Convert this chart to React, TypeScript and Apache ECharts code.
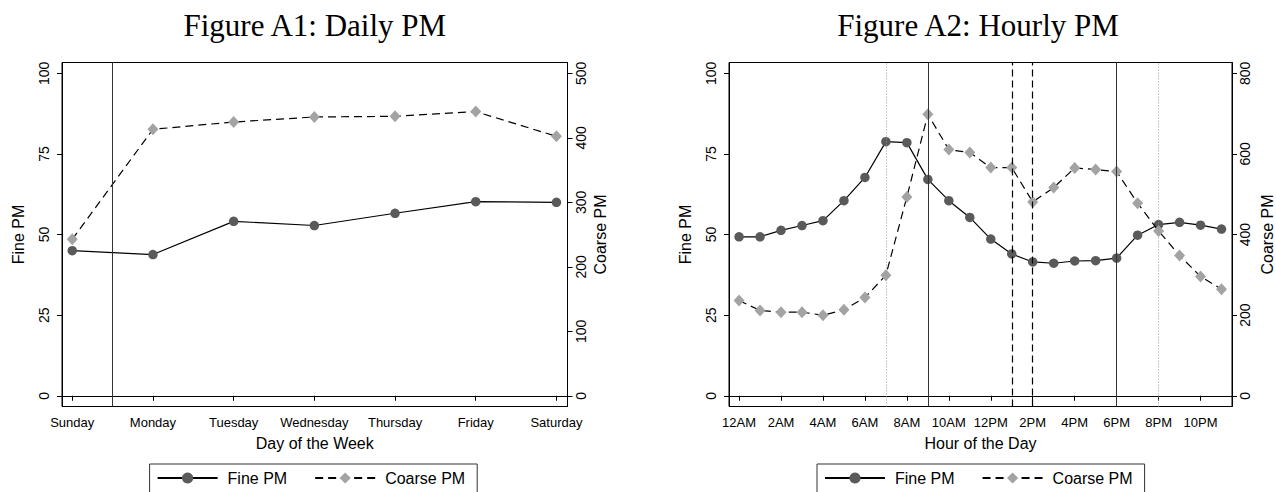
import React, { useEffect, useRef } from "react";
import * as echarts from "echarts";

// ---------- data ----------
const days = ["Sunday", "Monday", "Tuesday", "Wednesday", "Thursday", "Friday", "Saturday"];
const dailyFine = [45.0, 43.8, 54.1, 52.8, 56.6, 60.2, 60.0];
const dailyCoarse = [242.6, 413.2, 424.5, 432.3, 433.3, 440.6, 402.3];

const hourNames = [
  "12AM", "1AM", "2AM", "3AM", "4AM", "5AM", "6AM", "7AM", "8AM", "9AM", "10AM", "11AM",
  "12PM", "1PM", "2PM", "3PM", "4PM", "5PM", "6PM", "7PM", "8PM", "9PM", "10PM", "11PM",
];
const hourTicks = [0, 2, 4, 6, 8, 10, 12, 14, 16, 18, 20, 22];
const hourlyFine = [
  49.3, 49.3, 51.3, 52.8, 54.3, 60.5, 67.7, 78.8, 78.5, 67.1, 60.5, 55.3,
  48.6, 44.0, 41.5, 41.1, 41.8, 41.9, 42.7, 49.8, 53.1, 53.8, 52.9, 51.7,
];
const hourlyCoarse = [
  236.4, 211.6, 207.4, 207.4, 200.0, 213.2, 243.8, 299.2, 493.4, 698.3, 610.7, 603.3,
  566.1, 566.1, 481.0, 516.5, 565.3, 561.2, 556.2, 477.7, 409.1, 347.9, 295.9, 264.4,
];

const fineTicks = [0, 25, 50, 75, 100];
const dailyCoarseTicks = [0, 100, 200, 300, 400, 500];
const hourlyCoarseTicks = [0, 200, 400, 600, 800];

const dailyRefLines = [0.5];
const hourlyDottedLines = [7, 20];
const hourlySolidLines = [9, 18];
const hourlyDashedLines = [13, 14];

const seriesNames = ["Fine PM", "Coarse PM"];
const titles = ["Figure A1: Daily PM", "Figure A2: Hourly PM"];

// ---------- styles ----------
const FONT = "Liberation Sans";
const fineLine = { color: "#000", width: 1.2, type: "solid" as const };
const fineItem = { color: "#5a5a5a", borderWidth: 0 };
const coarseLine = { color: "#000", width: 1.2, type: [8, 5] as any };
const coarseItem = { color: "#a3a3a3", borderWidth: 0 };

function xAxisBase(grid: number, min: number, max: number, ticks: number[], fmt: (v: number) => string, name: string) {
  return {
    gridIndex: grid,
    type: "value",
    min,
    max,
    name,
    nameLocation: "middle",
    nameGap: 29,
    nameTextStyle: { fontFamily: FONT, fontSize: 16, color: "#000" },
    axisLine: { show: true, lineStyle: { color: "#000", width: 1 } },
    axisTick: { show: true, customValues: ticks, length: 5, lineStyle: { color: "#000" } },
    axisLabel: { customValues: ticks, formatter: fmt, margin: 9, fontFamily: FONT, fontSize: 13, color: "#000" },
    splitLine: { show: false },
  };
}

function yAxisBase(grid: number, position: string, min: number, max: number, ticks: number[], name: string, nameGap: number, margin: number) {
  return {
    gridIndex: grid,
    type: "value",
    position,
    min,
    max,
    name,
    nameLocation: "middle",
    nameRotate: 90,
    nameGap,
    nameTextStyle: { fontFamily: FONT, fontSize: 16, color: "#000" },
    axisLine: { show: true, onZero: false, lineStyle: { color: "#000", width: 1 } },
    axisTick: { show: true, customValues: ticks, length: 5, lineStyle: { color: "#000" } },
    axisLabel: { customValues: ticks, rotate: 90, margin, fontFamily: FONT, fontSize: 14, color: "#000" },
    splitLine: { show: false },
  };
}

function refLines(values: number[], style: any) {
  return values.map((v) => ({ xAxis: v, lineStyle: style }));
}

function legendFor(left: number) {
  return {
    data: seriesNames,
    left,
    top: 464,
    orient: "horizontal",
    itemWidth: 60,
    itemHeight: 14,
    itemGap: 27,
    padding: [6, 12, 22, 7],
    borderColor: "#333",
    borderWidth: 1,
    backgroundColor: "#fff",
    selectedMode: false,
    textStyle: { fontFamily: FONT, fontSize: 16, color: "#000", padding: [0, 0, 0, 5] },
  };
}

export default function App() {
  const ref = useRef<HTMLDivElement>(null);

  useEffect(() => {
    if (!ref.current) return;
    const chart = echarts.init(ref.current, undefined, { renderer: "svg" });
    const gridTop = 62.5;
    const gridH = 344;
    const fMin = -3.32;
    const fMax = 103.35;

    const option: any = {
      animation: false,
      textStyle: { fontFamily: FONT },
      grid: [
        { left: 62, top: gridTop, width: 505.5, height: gridH, show: true, borderColor: "#000", borderWidth: 1, backgroundColor: "transparent" },
        { left: 729, top: gridTop, width: 504, height: gridH, show: true, borderColor: "#000", borderWidth: 1, backgroundColor: "transparent" },
      ],
      xAxis: [
        xAxisBase(0, -0.127, 6.137, [0, 1, 2, 3, 4, 5, 6], (v: number) => days[Math.round(v)] ?? "", "Day of the Week"),
        xAxisBase(1, -0.48, 23.5, hourTicks, (v: number) => hourNames[Math.round(v)] ?? "", "Hour of the Day"),
      ],
      yAxis: [
        yAxisBase(0, "left", fMin, fMax, fineTicks, "Fine PM", 36, 11),
        yAxisBase(0, "right", fMin * 5, fMax * 5, dailyCoarseTicks, "Coarse PM", 25, 6),
        yAxisBase(1, "left", fMin, fMax, fineTicks, "Fine PM", 36, 11),
        yAxisBase(1, "right", fMin * 8, fMax * 8, hourlyCoarseTicks, "Coarse PM", 27, 6),
      ],
      legend: [legendFor(149.6), legendFor(817)],
      graphic: [
        { type: "text", x: 314.8, y: 25, style: { text: titles[0], textAlign: "center", textVerticalAlign: "middle", font: "31px 'Liberation Serif'", fill: "#000" } },
        { type: "text", x: 978, y: 25, style: { text: titles[1], textAlign: "center", textVerticalAlign: "middle", font: "31px 'Liberation Serif'", fill: "#000" } },
      ],
      series: [
        {
          name: seriesNames[0],
          type: "line",
          xAxisIndex: 0,
          yAxisIndex: 0,
          data: dailyFine.map((v, i) => [i, v]),
          symbol: "circle",
          symbolSize: 9.5,
          lineStyle: fineLine,
          itemStyle: fineItem,
          z: 3,
          markLine: {
            silent: true,
            symbol: "none",
            label: { show: false },
            data: refLines(dailyRefLines, { color: "#333", width: 1, type: "solid" }),
          },
        },
        {
          name: seriesNames[1],
          type: "line",
          xAxisIndex: 0,
          yAxisIndex: 1,
          data: dailyCoarse.map((v, i) => [i, v]),
          symbol: "diamond",
          symbolSize: [11, 12],
          lineStyle: coarseLine,
          itemStyle: coarseItem,
          z: 4,
        },
        {
          name: seriesNames[0],
          type: "line",
          xAxisIndex: 1,
          yAxisIndex: 2,
          data: hourlyFine.map((v, i) => [i, v]),
          symbol: "circle",
          symbolSize: 9.5,
          lineStyle: fineLine,
          itemStyle: fineItem,
          z: 3,
          markLine: {
            silent: true,
            symbol: "none",
            label: { show: false },
            data: [
              ...refLines(hourlyDottedLines, { color: "#999", width: 1, type: [1, 2] }),
              ...refLines(hourlySolidLines, { color: "#333", width: 1, type: "solid" }),
              ...refLines(hourlyDashedLines, { color: "#000", width: 1.2, type: [7, 4] }),
            ],
          },
        },
        {
          name: seriesNames[1],
          type: "line",
          xAxisIndex: 1,
          yAxisIndex: 3,
          data: hourlyCoarse.map((v, i) => [i, v]),
          symbol: "diamond",
          symbolSize: [11, 12],
          lineStyle: coarseLine,
          itemStyle: coarseItem,
          z: 4,
        },
      ],
    };
    chart.setOption(option);
    return () => chart.dispose();
  }, []);

  return <div ref={ref} style={{ position: "absolute", left: 0, top: 0, width: 1276, height: 492 }} />;
}
